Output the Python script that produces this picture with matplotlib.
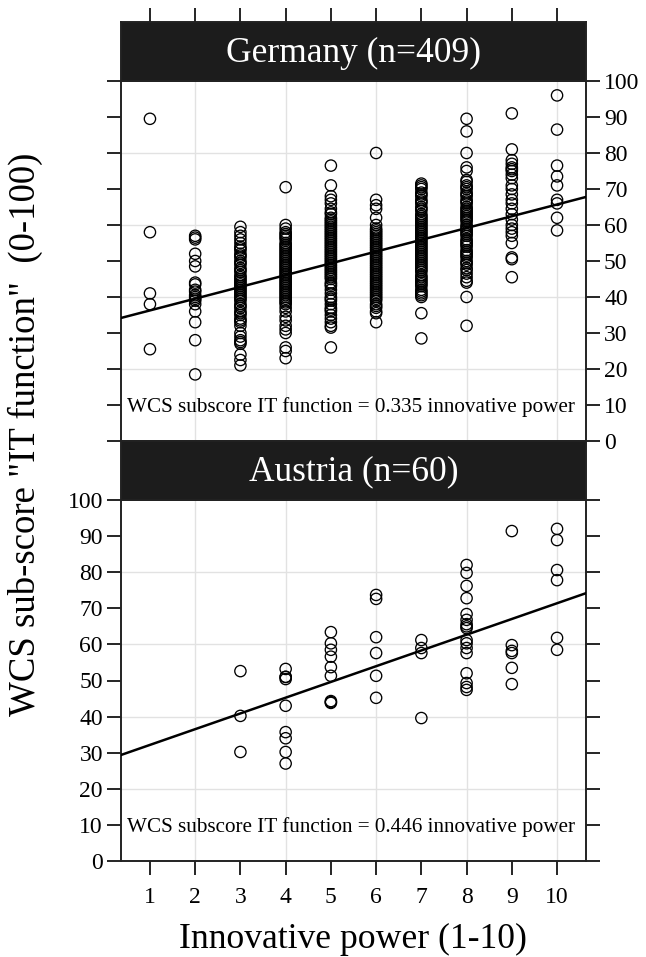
import matplotlib
matplotlib.use("Agg")
from matplotlib import pyplot as plt
import numpy as np

plt.rcParams['font.family'] = ['Liberation Serif', 'DejaVu Serif']

# Germany (n=409): WCS sub-score per innovative power level
de_1 = [89.5, 58, 41, 38, 25.5]
de_2 = [57, 56.5, 56, 52, 50, 48.5, 44, 43.5, 42, 41.5, 40.5, 40, 39.5, 39,
        38, 36, 33, 28, 18.5]
de_3 = [59.5, 58, 57, 56, 55, 54, 53.5, 53, 52, 51.5, 51, 50, 49.5, 49, 48,
        47.5, 47, 46, 45.5, 45, 44.5, 44, 43.5, 43, 42.5, 42, 41.5, 41, 40.5,
        40, 39.5, 39, 38, 37.5, 37, 36, 35.5, 35, 34, 33.5, 33, 32, 30, 29,
        28, 27.5, 27, 24, 22.5, 21]
de_4 = [70.5, 60, 59, 58, 57.5, 57, 56.5, 56, 55, 54.5, 54, 53.5, 53, 52.5,
        52, 51.5, 51, 50.5, 50, 49.5, 49, 48.5, 48, 47.5, 47, 46.5, 46, 45.5,
        45, 44.5, 44, 43.5, 43, 42.5, 42, 41.5, 41, 40.5, 40, 39.5, 39, 38.5,
        38, 37, 36, 34.5, 33.5, 32, 31, 30, 26, 25, 23]
de_5 = [76.5, 71, 68, 67, 66, 64.5, 63.5, 63, 62, 61.5, 61, 60.5, 60, 59.5,
        59, 58.5, 58, 57.5, 57, 56.5, 56, 55.5, 55, 54.5, 54, 53.5, 53, 52.5,
        52, 51.5, 51, 50.5, 50, 49.5, 49, 48.5, 48, 47.5, 47, 46.5, 46, 45.5,
        45, 44, 43.5, 43, 42, 41, 40, 39.5, 39, 38, 37, 36.5, 36, 35, 34, 33,
        32, 31.5, 26]
de_6 = [80, 67, 65.5, 64.5, 62, 60, 59, 58.5, 58, 57.5, 57, 56.5, 56, 55.5,
        55, 54.5, 54, 53.5, 53, 52.5, 52, 51.5, 51, 50.5, 50, 49.5, 49, 48.5,
        48, 47.5, 47, 46.5, 46, 45.5, 45, 44.5, 44, 43.5, 43, 42.5, 42, 41.5,
        41, 40.5, 40, 39.5, 39, 38, 37.5, 37, 36, 35.5, 33]
de_7 = [71.5, 71, 70.5, 70, 69, 68.5, 68, 67, 66.5, 66, 65, 64.5, 64, 63,
        62.5, 62, 61.5, 61, 60.5, 60, 59.5, 59, 58.5, 58, 57.5, 57, 56.5, 56,
        55.5, 55, 54.5, 54, 53.5, 53, 52.5, 52, 51.5, 51, 50.5, 50, 49.5, 49,
        48.5, 48, 47.5, 47, 46, 45.5, 45, 44.5, 44, 43.5, 43, 42, 41.5, 41,
        40.5, 40, 35.5, 28.5]
de_8 = [89.5, 86, 80, 76, 75, 72.5, 72, 71, 70.5, 70, 69, 68.5, 68, 67, 66.5,
        66, 65, 64.5, 64, 63.5, 63, 62.5, 62, 61.5, 61, 60, 59.5, 59, 58.5,
        58, 57.5, 57, 56, 55.5, 55, 54.5, 54, 53, 52.5, 52, 51.5, 51, 50,
        49.5, 49, 48, 47.5, 46.5, 45.5, 44.5, 44, 40, 32]
de_9 = [91, 81, 78, 77, 76, 75.5, 75, 74, 73, 71, 70, 68.5, 67, 66, 64.5, 63,
        61.5, 60, 59, 58, 57, 55, 51, 50.5, 45.5]
de_10 = [96, 86.5, 76.5, 73.5, 71, 67, 66, 62, 58.5]
germany = [de_1, de_2, de_3, de_4, de_5, de_6, de_7, de_8, de_9, de_10]

# Austria (n=60)
at_3 = [52.6, 40.2, 30.2]
at_4 = [53.2, 51, 50.4, 51, 43, 35.7, 34, 30.2, 27]
at_5 = [63.4, 60.3, 58.5, 56.6, 53.7, 51.3, 44.3, 43.8, 44]
at_6 = [73.7, 72.6, 62, 57.6, 51.3, 45.2]
at_7 = [61.2, 59, 57.6, 39.6]
at_8 = [82, 79.8, 76.2, 72.8, 68.4, 66.8, 65.6, 64.5, 65, 61.2, 60.3, 59,
        57.6, 52, 49.3, 48.2, 47.4]
at_9 = [91.4, 59.8, 58.2, 57.6, 53.5, 49]
at_10 = [92, 88.9, 80.6, 77.8, 61.8, 58.5]
austria = [[], [], at_3, at_4, at_5, at_6, at_7, at_8, at_9, at_10]

# regression lines (intercept, slope)
de_fit = (33.0, 3.27)
at_fit = (27.8, 4.36)

levels = list(range(1, 11))
y_ticks = list(range(0, 101, 10))
grid_x = [2, 4, 6, 8, 10]
grid_y = [20, 40, 60, 80]

W, H = 646, 957
fig = plt.figure(figsize=(W / 100, H / 100), dpi=100)


def fx(px):
    return px / W


def fy(py):
    return 1 - py / H


left, right = 121, 586
ax_de = fig.add_axes([fx(left), fy(441), fx(right - left), (441 - 81) / H])
st_de = fig.add_axes([fx(left), fy(81), fx(right - left), (81 - 22) / H])
ax_at = fig.add_axes([fx(left), fy(861), fx(right - left), (861 - 500) / H])
st_at = fig.add_axes([fx(left), fy(500), fx(right - left), (500 - 441) / H])

xlim = (0.36, 10.64)


def panel(ax, data, fit, label):
    for g in grid_x:
        ax.axvline(g, color='#e2e2e2', lw=1.0, zorder=0)
    for g in grid_y:
        ax.axhline(g, color='#e2e2e2', lw=1.0, zorder=0)
    for lv, vals in zip(levels, data):
        if vals:
            ax.scatter([lv] * len(vals), vals, s=66, facecolors='none',
                       edgecolors='black', linewidths=0.95, zorder=3)
    xs = np.array(xlim)
    ax.plot(xs, fit[0] + fit[1] * xs, color='black', lw=1.8, zorder=4)
    ax.set_xlim(xlim)
    ax.set_ylim(0, 100)
    ax.set_xticks(levels)
    ax.set_yticks(y_ticks)
    ax.text(0.5, 9.5, label, fontsize=15.2, va='center', ha='left', zorder=5)
    for s in ax.spines.values():
        s.set_linewidth(1.4)
        s.set_color('#222222')


def strip(ax, title):
    ax.set_facecolor('#1c1c1c')
    ax.set_xlim(xlim)
    ax.set_yticks([])
    ax.text(0.5, 0.47, title, transform=ax.transAxes, color='white',
            fontsize=25.5, ha='center', va='center')
    for s in ax.spines.values():
        s.set_linewidth(1.4)
        s.set_color('#222222')


panel(ax_de, germany, de_fit,
      "WCS subscore IT function = 0.335 innovative power")
panel(ax_at, austria, at_fit,
      "WCS subscore IT function = 0.446 innovative power")
strip(st_de, "Germany (n=409)")
strip(st_at, "Austria (n=60)")

# Germany: ticks left (no labels), labels right, x ticks on top of strip
ax_de.tick_params(axis='y', direction='out', length=10, width=1.2,
                  left=True, right=True, labelleft=False, labelright=True,
                  labelsize=17, pad=3)
ax_de.tick_params(axis='x', bottom=False, top=False, labelbottom=False)
st_de.set_xticks(levels)
st_de.tick_params(axis='x', direction='out', length=10, width=1.2,
                  bottom=False, top=True, labelbottom=False, labeltop=False)
st_at.set_xticks([])

# Austria: labels left, ticks right, labels bottom
ax_at.tick_params(axis='y', direction='out', length=10, width=1.2,
                  left=True, right=True, labelleft=True, labelright=False,
                  labelsize=17, pad=3)
ax_at.tick_params(axis='x', direction='out', length=10, width=1.2,
                  bottom=True, top=False, labelbottom=True, labelsize=17,
                  pad=9)

fig.text(fx(25), fy(434), 'WCS sub-score "IT function"  (0-100)',
         rotation=90, fontsize=26.5, ha='center', va='center')
fig.text(fx(353), fy(948), 'Innovative power (1-10)', fontsize=25.7,
         ha='center', va='baseline')

plt.savefig('out.png', dpi=100)
